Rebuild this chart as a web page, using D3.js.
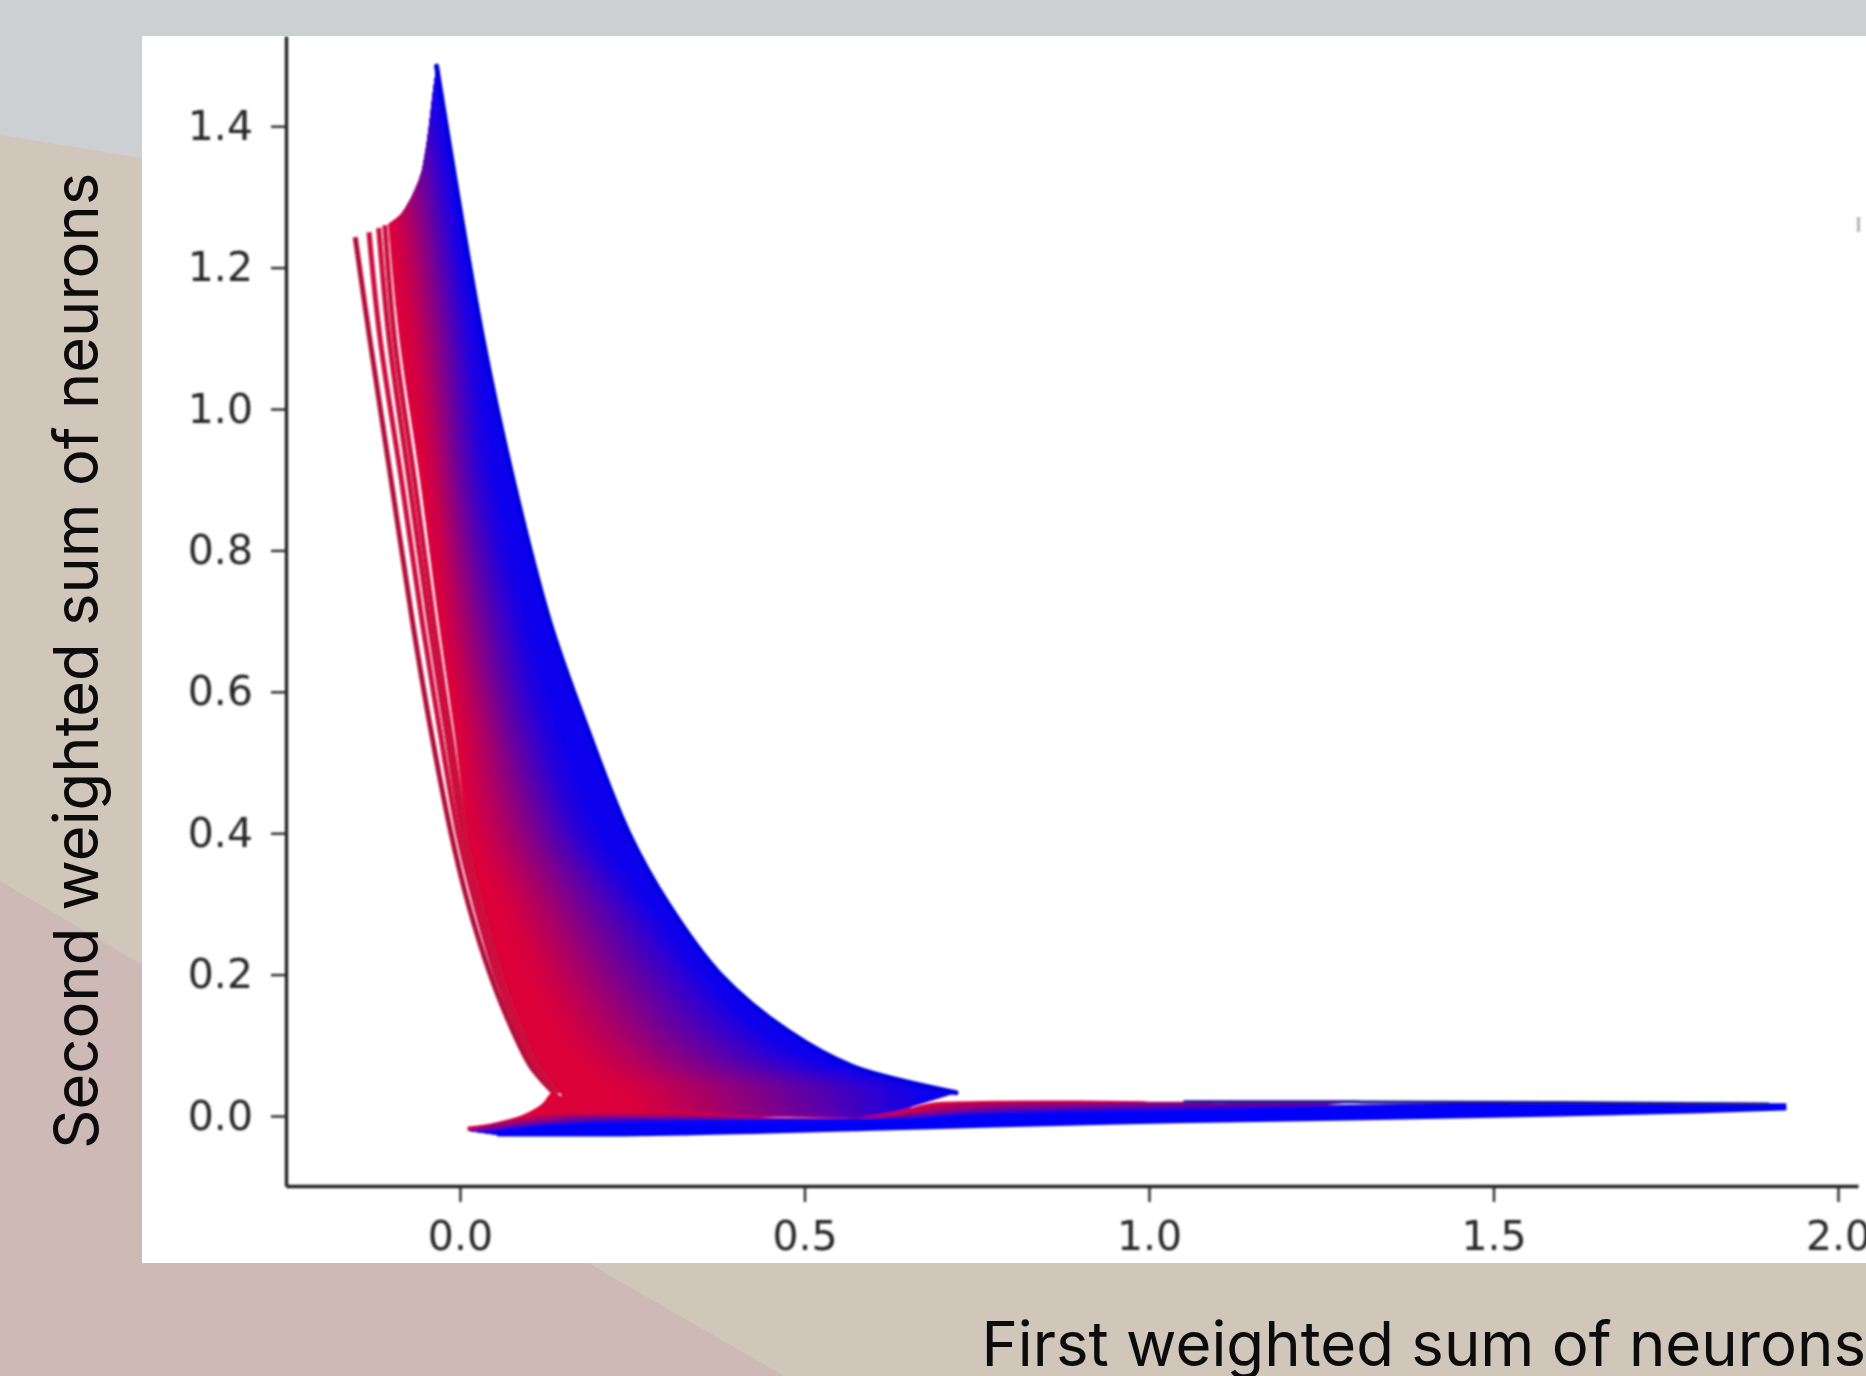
<!DOCTYPE html>
<html>
<head>
<meta charset="utf-8">
<script src="https://cdn.jsdelivr.net/npm/d3@7"></script>
<style>
  html, body { margin: 0; padding: 0; background: #cdd0d3; overflow: hidden; }
  svg { display: block; }
</style>
</head>
<body>
<svg id="chart" width="1866" height="1376"></svg>
<script>
// ---- values ----
var xTicks = [0, 0.5, 1, 1.5, 2];
var yTicks = [0, 0.2, 0.4, 0.6, 0.8, 1, 1.2, 1.4];
var xTitle = "First weighted sum of neurons";
var yTitle = "Second weighted sum of neurons";

// heights at which the x of each curve was read
var levels = [1.1, 0.9, 0.7, 0.55, 0.4, 0.3, 0.2, 0.12, 0.07, 0.033];

// the four separate red curves on the left
var redStarts = [[-0.152, 1.243], [-0.132, 1.25], [-0.118, 1.256], [-0.109, 1.26]];
var redXs = [
    [-0.131, -0.1, -0.069, -0.043, -0.013, 0.012, 0.044, 0.077, 0.103, 0.136],
    [-0.116, -0.085, -0.055, -0.03, -0.003, 0.022, 0.052, 0.084, 0.109, 0.14],
    [-0.103, -0.074, -0.045, -0.021, 0.004, 0.028, 0.057, 0.089, 0.113, 0.143],
    [-0.095, -0.066, -0.038, -0.015, 0.009, 0.032, 0.061, 0.092, 0.116, 0.146]
];

// the dense curves, red side to blue side
var denseTones = [0, 0.02, 0.08, 0.15, 0.22, 0.3, 0.38, 0.46, 0.54, 0.62, 0.7, 0.78, 0.86, 0.94, 1];
var denseStarts = [
    [-0.104, 1.262], [-0.098, 1.266], [-0.092, 1.27], [-0.086, 1.275], [-0.079, 1.285],
    [-0.072, 1.297], [-0.066, 1.309], [-0.06, 1.323], [-0.055, 1.338], [-0.051, 1.36],
    [-0.048, 1.378], [-0.045, 1.4], [-0.042, 1.425], [-0.039, 1.45], [-0.034, 1.485]
];
var denseXs = [
    [-0.088, -0.058, -0.031, -0.009, 0.012, 0.035, 0.064, 0.094, 0.118, 0.146],
    [-0.078, -0.05, -0.026, 0.002, 0.02, 0.055, 0.095, 0.136, 0.173, 0.222],
    [-0.068, -0.042, -0.018, 0.008, 0.03, 0.075, 0.119, 0.164, 0.206, 0.264],
    [-0.06, -0.035, -0.011, 0.015, 0.045, 0.092, 0.14, 0.188, 0.235, 0.299],
    [-0.052, -0.028, -0.003, 0.026, 0.06, 0.11, 0.16, 0.212, 0.263, 0.334],
    [-0.044, -0.022, 0.006, 0.036, 0.075, 0.127, 0.181, 0.235, 0.292, 0.37],
    [-0.036, -0.016, 0.015, 0.047, 0.09, 0.144, 0.201, 0.259, 0.32, 0.405],
    [-0.029, -0.009, 0.024, 0.057, 0.105, 0.161, 0.222, 0.283, 0.348, 0.44],
    [-0.022, -0.002, 0.033, 0.067, 0.118, 0.178, 0.242, 0.307, 0.377, 0.476],
    [-0.015, 0.005, 0.043, 0.078, 0.131, 0.196, 0.263, 0.33, 0.405, 0.511],
    [-0.008, 0.013, 0.053, 0.09, 0.145, 0.213, 0.283, 0.354, 0.434, 0.546],
    [-0.001, 0.021, 0.064, 0.102, 0.158, 0.23, 0.304, 0.378, 0.462, 0.582],
    [0.007, 0.03, 0.075, 0.115, 0.172, 0.247, 0.324, 0.402, 0.491, 0.617],
    [0.016, 0.045, 0.09, 0.135, 0.195, 0.265, 0.345, 0.425, 0.519, 0.652],
    [0.033, 0.077, 0.13, 0.184, 0.245, 0.302, 0.378, 0.476, 0.57, 0.72]
];
var denseEnds = [0.15, 0.222, 0.264, 0.299, 0.334, 0.37, 0.405, 0.44, 0.476, 0.511, 0.546, 0.582, 0.617, 0.652];
// where the underside of the dense curves leaves the strip
var denseFloor = [0.6, -0.003];

// lower strip: lines running to the right, red first and blue last
var stripBottom = [[0.011, -0.021], [0.054, -0.027], [0.203, -0.027], [0.437, -0.023], [0.67, -0.017],
    [1.04, -0.008], [1.31, -0.004], [1.578, 0.001], [1.8, 0.006], [1.925, 0.01]];
var stripTones = [0, 0.25, 0.5, 0.75, 1];
var stripLines = [
    [[0.011, -0.015], [0.056, -0.008], [0.096, 0.004], [0.12, 0.018], [0.134, 0.033], [0.17, 0.014], [0.3, 0.008], [0.45, -0.002], [0.556, -0.004], [0.63, 0.006], [0.7, 0.02], [0.85, 0.022], [1, 0.021]],
    [[0.02, -0.017], [0.15, 0.002], [0.3, 0.004], [0.45, -0.003], [0.556, -0.004], [0.64, 0.004], [0.72, 0.017], [0.9, 0.02], [1.1, 0.02]],
    [[0.03, -0.018], [0.2, -0.001], [0.4, -0.002], [0.55, -0.004], [0.66, 0.003], [0.8, 0.014], [1, 0.017], [1.3, 0.02]],
    [[0.04, -0.019], [0.25, -0.004], [0.45, -0.004], [0.6, -0.003], [0.75, 0.006], [0.95, 0.012], [1.2, 0.015], [1.6, 0.02]],
    [[0.05, -0.021], [0.1, -0.014], [0.2, -0.009], [0.47, -0.005], [0.63, -0.004], [0.755, 0.004], [1, 0.008], [1.3, 0.015], [1.6, 0.018], [1.925, 0.018]]
];
var stripTopEdge = [[1.05, 0.02], [1.3, 0.02], [1.6, 0.019], [1.9, 0.017]];

function main() {
    var svg = d3.select("#chart");
    var defs = svg.append("defs");
    defs.append("filter").attr("id", "soft")
        .attr("filterUnits", "userSpaceOnUse").attr("x", 142).attr("y", 36).attr("width", 1724).attr("height", 1227)
        .append("feGaussianBlur").attr("stdDeviation", 1.1);
    defs.append("filter").attr("id", "wide")
        .attr("filterUnits", "userSpaceOnUse").attr("x", 142).attr("y", 36).attr("width", 1724).attr("height", 1227)
        .append("feGaussianBlur").attr("stdDeviation", 6);

    // background slide
    svg.append("rect").attr("width", 1866).attr("height", 1376).attr("fill", "#cdd0d3");
    svg.append("path").attr("d", "M0,135 L142,158 L142,1376 L0,1376 Z").attr("fill", "#d0c6b9");
    svg.append("rect").attr("x", 0).attr("y", 1263).attr("width", 1866).attr("height", 113).attr("fill", "#d0c6b9");
    svg.append("path").attr("d", "M0,881 L142,965 L588,1263 L784,1376 L0,1376 Z").attr("fill", "#cdb9b6");
    svg.append("rect").attr("x", 142).attr("y", 36).attr("width", 1724).attr("height", 1227).attr("fill", "#ffffff");

    var xScale = d3.scaleLinear().domain([-0.2525, 2.029]).range([286, 1858]);
    var yScale = d3.scaleLinear().domain([-0.099, 1.5276]).range([1186, 36]);
    var tone = d3.interpolateRgb("#dc0038", "#0000f8");

    var curve = d3.line().x(function (d) { return xScale(d[0]); }).y(function (d) { return yScale(d[1]); })
        .curve(d3.curveCatmullRom.alpha(0.5));
    var strip = d3.line().x(function (d) { return xScale(d[0]); }).y(function (d) { return yScale(d[1]); })
        .curve(d3.curveMonotoneX);
    var straight = d3.line().x(function (d) { return xScale(d[0]); }).y(function (d) { return yScale(d[1]); });

    var g = svg.append("g").attr("filter", "url(#soft)");

    // red curves
    var redPaths = redXs.map(function (xs, i) {
        return [redStarts[i]].concat(xs.map(function (x, j) { return [x, levels[j]]; }));
    });
    g.selectAll(".red").data(redPaths).enter().append("path")
        .attr("class", "red")
        .attr("d", curve)
        .attr("fill", "none")
        .attr("stroke", function (d, i) { return i == 0 ? "#b00f3a" : "#cc0a3c"; })
        .attr("stroke-width", 5);

    // dense curves: each fills from itself over to the blue edge
    var densePaths = denseXs.map(function (xs, i) {
        var pts = [denseStarts[i]].concat(xs.map(function (x, j) { return [x, levels[j]]; }));
        if (i < denseEnds.length) pts.push([denseEnds[i], 0.002]);
        return pts;
    });
    var blueEdge = densePaths[densePaths.length - 1];
    function bandPath(pts, i) {
        var back = blueEdge.slice().reverse();
        var top = denseStarts.slice(i, denseStarts.length - 1).reverse();
        var d = curve(pts) + straight([denseFloor]).replace("M", "L").replace("Z", "");
        d += curve(back).replace("M", "L");
        if (top.length) d += straight(top).replace("M", "L");
        return d + "Z";
    }
    defs.append("clipPath").attr("id", "wedge").append("path").attr("d", bandPath(densePaths[0], 0));

    function drawBands(parent) {
        parent.selectAll(".band").data(densePaths).enter().append("path")
            .attr("class", "band")
            .attr("d", bandPath)
            .attr("fill", function (d, i) { return tone(denseTones[i]); });
    }
    drawBands(g.append("g"));
    var smooth = g.append("g").attr("clip-path", "url(#wedge)").append("g").attr("filter", "url(#wide)");
    drawBands(smooth);

    g.append("path").attr("d", curve(blueEdge))
        .attr("fill", "none").attr("stroke", "#0000e0").attr("stroke-width", 5).attr("stroke-linecap", "round");

    // lower strip
    g.selectAll(".strip").data(stripLines).enter().append("path")
        .attr("class", "strip")
        .attr("d", function (d) {
            var end = d[d.length - 1][0];
            var back = stripBottom.filter(function (p) { return p[0] <= end; }).reverse();
            return strip(d) + "L" + straight(back).slice(1) + "Z";
        })
        .attr("fill", function (d, i) { return tone(stripTones[i]); });
    g.append("path").attr("d", strip(stripTopEdge))
        .attr("fill", "none").attr("stroke", "#1c1490").attr("stroke-width", 3);
    g.append("path").attr("d", strip(stripBottom.slice(1)))
        .attr("fill", "none").attr("stroke", "#0000f8").attr("stroke-width", 3);

    // axes
    var xAxis = g.append("g").attr("transform", "translate(0,1186)")
        .call(d3.axisBottom(xScale).tickValues(xTicks).tickFormat(d3.format(".1f")).tickSize(16).tickSizeOuter(0).tickPadding(19));
    var yAxis = g.append("g").attr("transform", "translate(286,0)")
        .call(d3.axisLeft(yScale).tickValues(yTicks).tickFormat(d3.format(".1f")).tickSize(15).tickSizeOuter(0).tickPadding(18));
    [xAxis, yAxis].forEach(function (a) {
        a.attr("font-family", "'DejaVu Sans'").attr("font-size", 41);
        a.selectAll("text").attr("fill", "#262626");
        a.selectAll("line").attr("stroke", "#2a2a2a").attr("stroke-width", 2.4);
        a.select(".domain").attr("stroke", "#222222").attr("stroke-width", 3.4);
    });

    // stray mark at the right of the source screenshot
    g.append("rect").attr("x", 1857).attr("y", 217).attr("width", 3).attr("height", 15).attr("fill", "#b4b4b4");

    // titles
    svg.append("text").text(xTitle)
        .attr("x", 1866).attr("y", 1366).attr("text-anchor", "end")
        .attr("font-family", "Inter").attr("font-size", 61.7).attr("fill", "#0c0c0c");
    svg.append("text").text(yTitle)
        .attr("transform", "translate(98,1149) rotate(-90)")
        .attr("font-family", "Inter").attr("font-size", 61.5).attr("fill", "#0c0c0c");
}
main();
</script>
</body>
</html>
